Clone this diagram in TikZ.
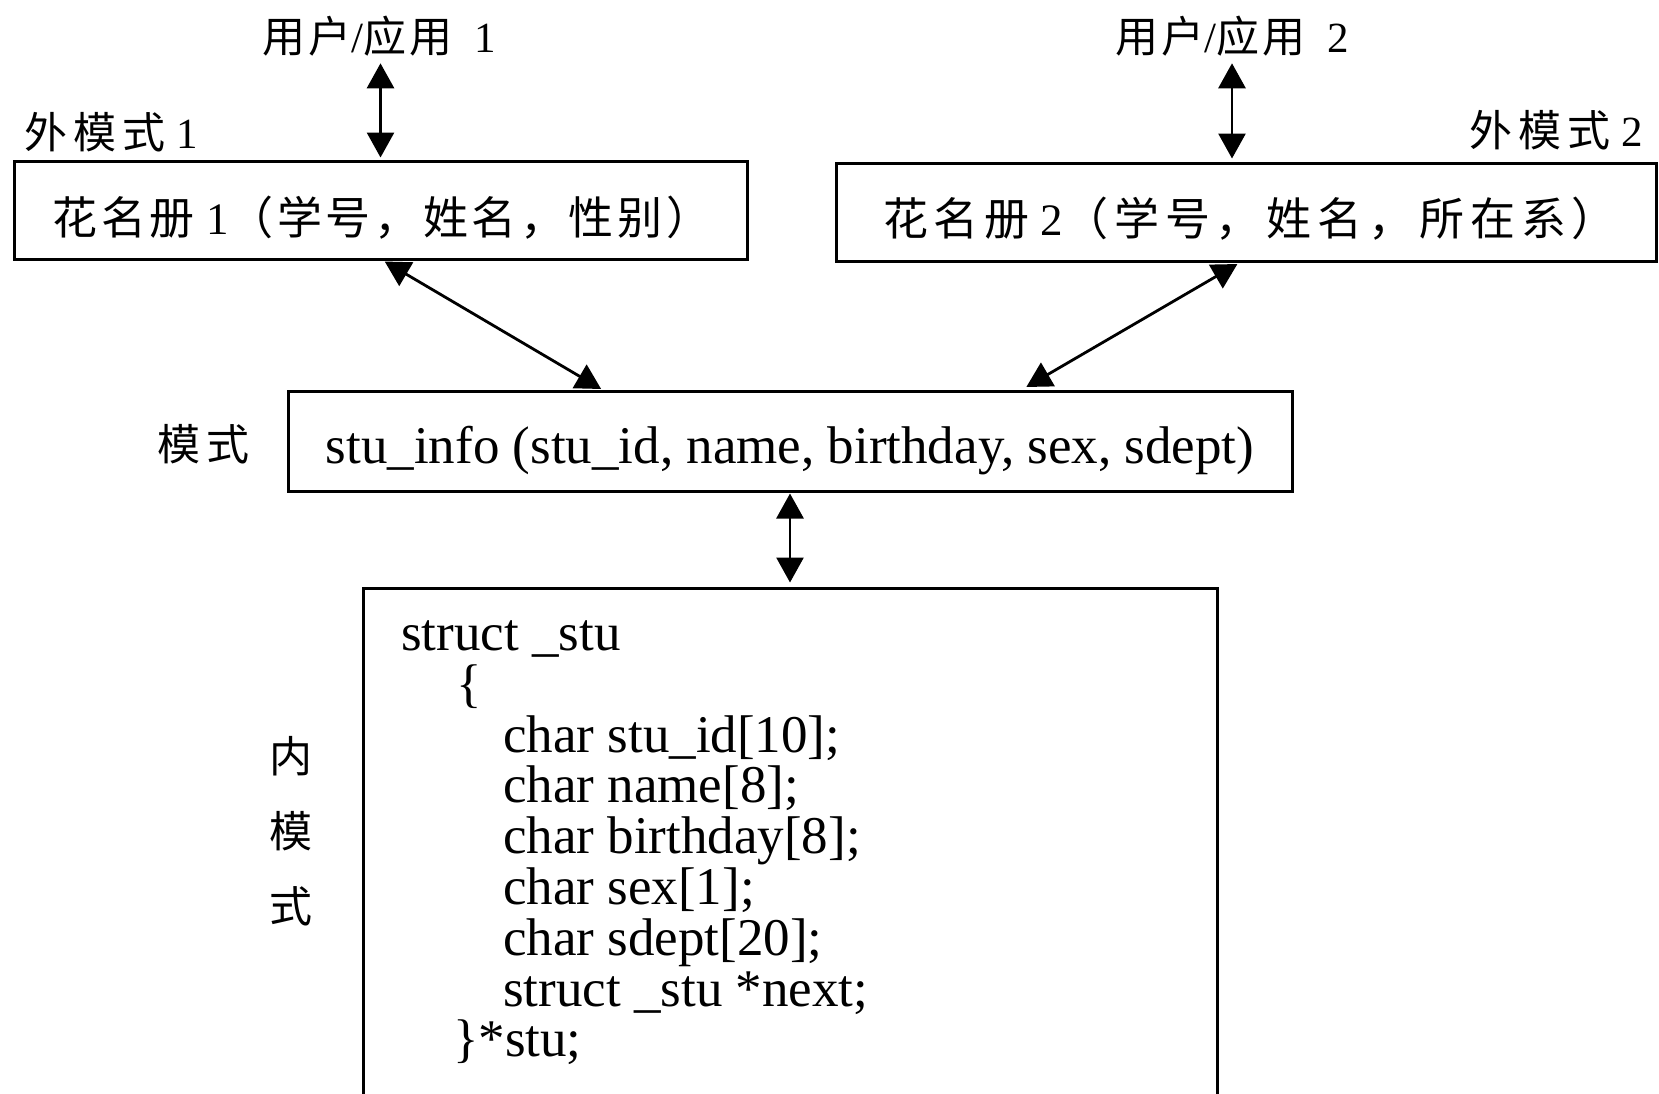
\documentclass[tikz,border=0pt]{standalone}
\usepackage{fontspec}
\setmainfont{Liberation Serif}
\newfontfamily\cjk[LetterSpace=8]{Noto Sans CJK SC}
\newfontfamily\cjkw[LetterSpace=13]{Noto Sans CJK SC}
\newfontfamily\cjkl[LetterSpace=14]{Noto Sans CJK SC}
\usetikzlibrary{arrows.meta}
\begin{document}
\begin{tikzpicture}[x=1pt,y=-1pt,
  box/.style={draw, line width=3pt, inner sep=0pt},
  lbl/.style={inner sep=0pt},
  cjkbig/.style={font=\fontsize{45}{50}\selectfont},
  cjklbl/.style={font=\fontsize{43}{48}\selectfont},
  code/.style={inner sep=0pt, anchor=base west, font=\fontsize{53}{55}\selectfont},
  dbl/.style={{Triangle[width=27pt,length=25pt]}-{Triangle[width=27pt,length=25pt]}, line width=2.8pt},
]
\useasboundingbox (0,0) rectangle (1659,1093);
\clip (0,0) rectangle (1659,1093);

% boxes
\node[box, minimum width=733pt, minimum height=98pt] (b1) at (380.5,210) {};
\node[box, minimum width=820pt, minimum height=98pt] (b2) at (1246,212) {};
\node[box, minimum width=1004pt, minimum height=100pt] (mid) at (790,441) {};
\node[box, minimum width=854pt, minimum height=540pt] (inner) at (790,858) {};

% box texts
\node[lbl, cjkbig] (t1) at (382,218) {{\cjk 花名册}~1{\cjk （学号，姓名，性别）}};
\node[lbl, cjkbig] (t2) at (1250,219) {{\cjkw 花名册}~2{\cjkw （学号，姓名，所在系）}};
\node[lbl, anchor=base, font=\fontsize{53}{55}\selectfont] (tm) at (790,463) {stu\_info (stu\_id, name, birthday, sex, sdept)};

% labels
\node[lbl, cjklbl] (u1) at (379,36) {{\cjk 用户}/{\cjk 应用}~~1};
\node[lbl, cjklbl] (u2) at (1232,36) {{\cjk 用户}/{\cjk 应用}~~2};
\node[lbl, cjklbl] (e1) at (111,132) {{\cjkl 外模式}~1};
\node[lbl, cjklbl] (e2) at (1556,130) {{\cjkl 外模式}~2};
\node[lbl, cjklbl] (m) at (204,444) {\cjkl 模式};
\node[lbl, cjklbl, align=center, font=\fontsize{43}{75}\selectfont] (nm) at (291,831) {\cjk 内\\\cjk 模\\\cjk 式};

% code
\node[code] (c1) at (401,650) {struct \_stu};
\node[code] (c2) at (456,701) {\{};
\node[code] (c3) at (503,752) {char stu\_id[10];};
\node[code] (c4) at (503,802) {char name[8];};
\node[code] (c5) at (503,853) {char birthday[8];};
\node[code] (c6) at (503,904) {char sex[1];};
\node[code] (c7) at (503,955) {char sdept[20];};
\node[code] (c8) at (503,1006) {struct \_stu *next;};
\node[code] (c9) at (453,1056) {\}*stu;};

% connectors
\draw[dbl, shorten <=7pt, shorten >=2pt] (u1.south -| b1.north) -- (b1.north);
\draw[dbl, shorten <=7pt, shorten >=3pt] (u2.south) -- (u2.south |- b2.north);
\draw[dbl, shorten <=2pt, shorten >=1pt] ([xshift=2.5pt]b1.south) -- ([xshift=-188pt]mid.north);
\draw[dbl, shorten <=3pt, shorten >=5pt] ([xshift=-6pt]b2.south) -- ([xshift=232pt]mid.north);
\draw[dbl, shorten <=1pt, shorten >=4pt] (mid.south) -- (inner.north);
\end{tikzpicture}
\end{document}
